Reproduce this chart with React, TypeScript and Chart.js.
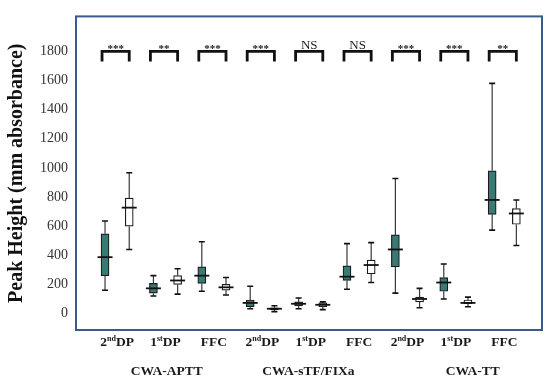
import React, { useEffect, useRef } from 'react';
import { Chart, registerables } from 'chart.js';

Chart.register(...registerables);

// ---- data ----
const groupTitles = ['CWA-APTT', 'CWA-sTF/FIXa', 'CWA-TT'];
const groupTitleX = [3.55, 9.4, 16.2];
const subLabelParts = [
  ['2', 'nd', 'DP'], ['1', 'st', 'DP'], ['FFC', '', ''],
  ['2', 'nd', 'DP'], ['1', 'st', 'DP'], ['FFC', '', ''],
  ['2', 'nd', 'DP'], ['1', 'st', 'DP'], ['FFC', '', ''],
];
const significance = ['***', '**', '***', '***', 'NS', 'NS', '***', '***', '**'];
const bracketValue = 1800;
const bracketLegValue = 1730;
const yTicks = [0, 200, 400, 600, 800, 1000, 1200, 1400, 1600, 1800];

// teal (first box of each pair)
const tealMin = [160, 120, 153, 33, 33, 167, 140, 100, 573];
const tealQ1 = [260, 140, 207, 47, 53, 227, 320, 153, 680];
const tealMedian = [387, 173, 260, 73, 67, 253, 440, 213, 780];
const tealQ3 = [547, 207, 320, 93, 80, 327, 540, 247, 980];
const tealMax = [635, 260, 493, 187, 107, 480, 927, 340, 1580];

// white (second box of each pair)
const whiteMin = [440, 133, 127, 13, 27, 213, 40, 47, 467];
const whiteQ1 = [600, 200, 160, 27, 47, 273, 80, 67, 613];
const whiteMedian = [727, 227, 180, 33, 60, 333, 100, 73, 687];
const whiteQ3 = [793, 260, 200, 40, 73, 367, 113, 93, 720];
const whiteMax = [967, 307, 247, 53, 80, 487, 173, 113, 780];

const SERIF = "'Liberation Serif', 'Times New Roman', serif";
const TEAL = '#3b7a74';

type Box = { x: number; min: number; q1: number; med: number; q3: number; max: number };

const tealBoxes: Box[] = tealMin.map((_, i) => ({
  x: 2 * i + 1, min: tealMin[i], q1: tealQ1[i], med: tealMedian[i], q3: tealQ3[i], max: tealMax[i],
}));
const whiteBoxes: Box[] = whiteMin.map((_, i) => ({
  x: 2 * i + 2, min: whiteMin[i], q1: whiteQ1[i], med: whiteMedian[i], q3: whiteQ3[i], max: whiteMax[i],
}));

function drawRich(ctx: CanvasRenderingContext2D, parts: string[], cx: number, y: number, size: number) {
  const main = `bold ${size}px ${SERIF}`;
  const sup = `bold ${Math.round(size * 0.62)}px ${SERIF}`;
  ctx.font = main;
  const w0 = ctx.measureText(parts[0]).width;
  const w2 = ctx.measureText(parts[2]).width;
  ctx.font = sup;
  const w1 = ctx.measureText(parts[1]).width;
  let x = cx - (w0 + w1 + w2) / 2;
  ctx.textAlign = 'left';
  ctx.textBaseline = 'alphabetic';
  ctx.font = main;
  ctx.fillText(parts[0], x, y);
  x += w0;
  ctx.font = sup;
  ctx.fillText(parts[1], x, y - size * 0.38);
  x += w1;
  ctx.font = main;
  ctx.fillText(parts[2], x, y);
}

const boxPlugin = {
  id: 'boxExtras',
  afterDatasetsDraw(chart: any) {
    const { ctx, chartArea } = chart;
    const xs = chart.scales.x;
    const ys = chart.scales.y;
    ctx.save();
    const all = [...tealBoxes, ...whiteBoxes];
    all.forEach((b) => {
      const px = xs.getPixelForValue(b.x);
      ctx.strokeStyle = '#3a3a3a';
      ctx.lineWidth = 1.2;
      ctx.beginPath();
      ctx.moveTo(px, ys.getPixelForValue(b.q3));
      ctx.lineTo(px, ys.getPixelForValue(b.max));
      ctx.moveTo(px, ys.getPixelForValue(b.q1));
      ctx.lineTo(px, ys.getPixelForValue(b.min));
      ctx.stroke();
      ctx.strokeStyle = '#111';
      ctx.lineWidth = 1.6;
      ctx.beginPath();
      ctx.moveTo(px - 3, ys.getPixelForValue(b.max));
      ctx.lineTo(px + 3, ys.getPixelForValue(b.max));
      ctx.moveTo(px - 3, ys.getPixelForValue(b.min));
      ctx.lineTo(px + 3, ys.getPixelForValue(b.min));
      ctx.stroke();
      ctx.lineWidth = 1.8;
      ctx.beginPath();
      ctx.moveTo(px - 7.5, ys.getPixelForValue(b.med));
      ctx.lineTo(px + 7.5, ys.getPixelForValue(b.med));
      ctx.stroke();
    });

    // significance brackets
    significance.forEach((s, i) => {
      const x1 = xs.getPixelForValue(2 * i + 1) - 3;
      const x2 = xs.getPixelForValue(2 * i + 2) + 0;
      const yb = ys.getPixelForValue(bracketValue);
      const yl = ys.getPixelForValue(bracketLegValue);
      ctx.strokeStyle = '#111';
      ctx.lineWidth = 2.8;
      ctx.lineJoin = 'miter';
      ctx.beginPath();
      ctx.moveTo(x1, yl);
      ctx.lineTo(x1, yb);
      ctx.lineTo(x2, yb);
      ctx.lineTo(x2, yl);
      ctx.stroke();
      ctx.fillStyle = '#222';
      ctx.textAlign = 'center';
      ctx.textBaseline = 'alphabetic';
      if (s === 'NS') {
        ctx.font = `13px ${SERIF}`;
        ctx.fillText(s, (x1 + x2) / 2, yb - 2);
      } else {
        ctx.font = `bold 11px ${SERIF}`;
        ctx.fillText(s, (x1 + x2) / 2, yb + 1);
      }
    });

    // x sub labels
    ctx.fillStyle = '#1a1a1a';
    subLabelParts.forEach((p, i) => {
      const cx = xs.getPixelForValue(2 * i + 1.5);
      drawRich(ctx, p, cx, chartArea.bottom + 16, 13.5);
    });
    // group titles
    ctx.font = `bold 13.5px ${SERIF}`;
    ctx.textAlign = 'center';
    ctx.textBaseline = 'alphabetic';
    groupTitles.forEach((t, i) => {
      ctx.fillText(t, xs.getPixelForValue(groupTitleX[i]), chartArea.bottom + 45);
    });

    // frame
    ctx.strokeStyle = '#3b5a8c';
    ctx.lineWidth = 2;
    ctx.strokeRect(chartArea.left, chartArea.top, chartArea.right - chartArea.left, chartArea.bottom - chartArea.top);
    ctx.restore();
  },
};

export default function App() {
  const ref = useRef<HTMLCanvasElement | null>(null);
  useEffect(() => {
    if (!ref.current) return;
    const chart = new Chart(ref.current, {
      type: 'bar',
      data: {
        datasets: [
          {
            label: 'teal',
            data: tealBoxes.map((b) => ({ x: b.x, y: [b.q1, b.q3] })) as any,
            backgroundColor: TEAL,
            borderColor: '#1a1a1a',
            borderWidth: 1.2,
            borderSkipped: false,
            barThickness: 8,
            grouped: false,
          } as any,
          {
            label: 'white',
            data: whiteBoxes.map((b) => ({ x: b.x, y: [b.q1, b.q3] })) as any,
            backgroundColor: '#ffffff',
            borderColor: '#1a1a1a',
            borderWidth: 1.2,
            borderSkipped: false,
            barThickness: 8,
            grouped: false,
          } as any,
        ],
      },
      options: {
        animation: false,
        responsive: false,
        maintainAspectRatio: false,
        layout: { padding: { left: 0, top: 7, right: 8, bottom: 48 } },
        plugins: { legend: { display: false }, tooltip: { enabled: false } },
        scales: {
          x: {
            type: 'linear',
            min: -0.2,
            max: 19.06,
            offset: false,
            display: false,
          },
          y: {
            type: 'linear',
            min: -113,
            max: 2040,
            afterBuildTicks: (scale: any) => {
              scale.ticks = yTicks.map((v) => ({ value: v }));
            },
            afterFit: (scale: any) => {
              scale.width = 76;
            },
            grid: { display: false, drawTicks: false },
            border: { display: false },
            ticks: {
              padding: 8,
              color: '#333',
              font: { family: SERIF, size: 14 },
              callback: (v: any) => String(v),
            },
            title: {
              display: true,
              text: 'Peak Height (mm absorbance)',
              color: '#111',
              padding: { top: 5, bottom: 0 },
              font: { family: SERIF, size: 20, weight: 'bold' },
            },
          },
        },
      },
      plugins: [boxPlugin],
    });
    return () => chart.destroy();
  }, []);
  return (
    <div style={{ position: 'fixed', left: 0, top: 0, width: 550, height: 378, background: '#fff' }}>
      <canvas ref={ref} width={550} height={378} style={{ width: 550, height: 378, display: 'block' }} />
    </div>
  );
}
